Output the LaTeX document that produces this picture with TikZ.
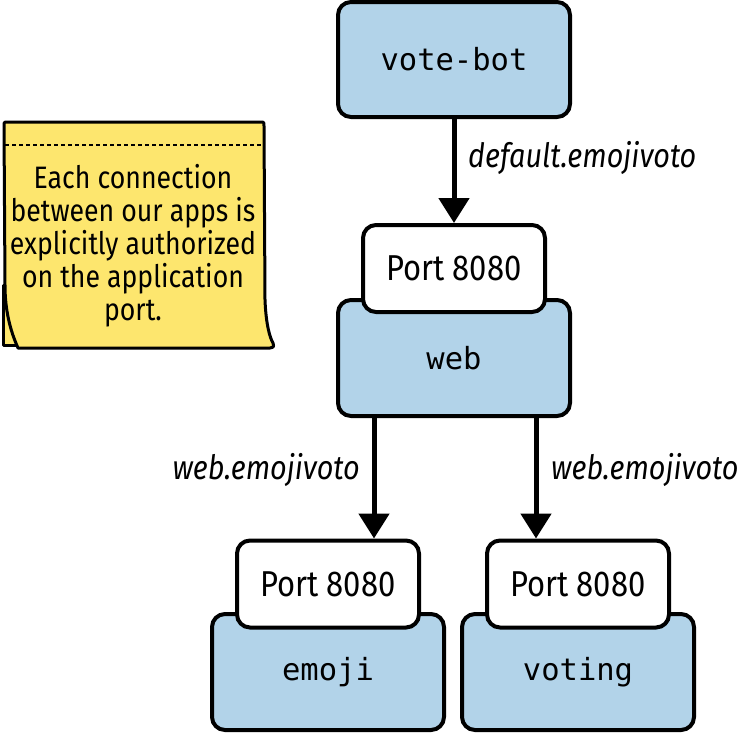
\documentclass[tikz,border=0pt]{standalone}
\usepackage{fontspec}
\setmainfont{Fira Sans}[FakeStretch=0.86]
\newfontfamily\labelfont{Fira Sans}[FakeStretch=0.86]
\newfontfamily\codefont{DejaVu Sans Mono}
\usetikzlibrary{arrows.meta}
\definecolor{appblue}{RGB}{178,211,233}
\definecolor{noteyellow}{RGB}{253,230,110}
\tikzset{
  appbox/.style={draw=black, line width=4pt, fill=appblue, rounded corners=13pt,
    minimum width=232pt, minimum height=116pt, inner sep=0pt,
    font=\codefont\fontsize{30.5}{34}\selectfont},
  portbox/.style={draw=black, line width=4pt, fill=white, rounded corners=13pt,
    minimum width=182pt, minimum height=87pt, inner sep=0pt,
    font=\fontsize{36}{40}\selectfont},
  conn/.style={line width=5pt, -{Triangle[width=30pt,length=25pt]}},
  edgelabel/.style={font=\labelfont\itshape\fontsize{33.5}{36}\selectfont, inner sep=0pt},
  notetext/.style={font=\fontsize{31}{33}\selectfont, align=center, inner sep=0pt},
  noteline/.style={draw=black, line width=3pt, fill=noteyellow, line join=round}
}
\begin{document}
\begin{tikzpicture}[x=1pt,y=-1pt]
\useasboundingbox (0,0) rectangle (741,734);
% sticky note (back sheet, front sheet, dashed fold)
\draw[noteline] (3,285) -- (3,345) -- (16,345) -- (16,285) -- cycle;
\draw[noteline] (8,122) -- (260,122) .. controls (264,122) .. (264,126)
  -- (265,300) .. controls (266,325) and (270,338) .. (273,343)
  .. controls (274,347) .. (270,348) -- (18,348)
  .. controls (10,330) and (5,310) .. (5,285) -- (4,126) .. controls (4,122) .. (8,122) -- cycle;
\draw[line width=1.4pt, dash pattern=on 4pt off 3pt] (5,145) -- (264,145);
\node[notetext] (note) at (133,246) {Each connection\\between our apps is\\explicitly authorized\\on the application\\port.};
% apps
\node[appbox, minimum height=115pt] (votebot) at (454,59.5) {vote-bot};
\node[appbox] (web) at (454,358) {web};
\node[portbox] (webport) at (454,268.5) {Port 8080};
\node[appbox] (emoji) at (328,672) {emoji};
\node[portbox] (emojiport) at (328,584) {Port 8080};
\node[appbox] (voting) at (578,672) {voting};
\node[portbox] (votingport) at (578,584) {Port 8080};
% connectors
\draw[conn] (votebot.south) -- (webport.north);
\draw[conn] ([xshift=-80pt]web.south) -- ([xshift=-80pt]web.south |- emojiport.north);
\draw[conn] ([xshift=82pt]web.south) -- ([xshift=82pt]web.south |- votingport.north);
% labels
\node[edgelabel, anchor=west] (lab1) at (468,158) {default.emojivoto};
\node[edgelabel, anchor=east] (lab2) at (360,470) {web.emojivoto};
\node[edgelabel, anchor=west] (lab3) at (551,470) {web.emojivoto};
\end{tikzpicture}
\end{document}
